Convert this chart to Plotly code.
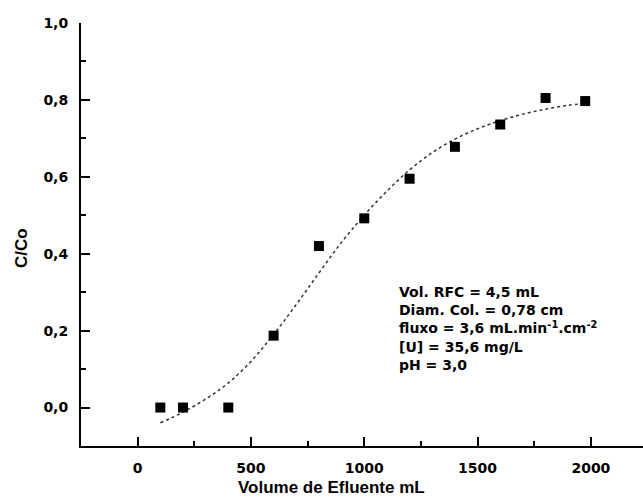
import plotly.graph_objects as go

vol = [100, 200, 400, 600, 800, 1000, 1200, 1400, 1600, 1800, 1975]
c_co = [0.0, 0.0, 0.0, 0.187, 0.42, 0.492, 0.595, 0.678, 0.736, 0.805, 0.797]

fit_x = [100, 200, 300, 400, 500, 600, 700, 800, 900, 1000, 1100, 1200, 1300,
         1400, 1500, 1600, 1700, 1800, 1900, 1975]
fit_y = [-0.04, -0.012, 0.022, 0.064, 0.12, 0.19, 0.268, 0.35, 0.43, 0.50, 0.563,
         0.618, 0.663, 0.698, 0.725, 0.746, 0.763, 0.776, 0.786, 0.791]

x_major = [0, 500, 1000, 1500, 2000]
y_major = [0.0, 0.2, 0.4, 0.6, 0.8, 1.0]

info_lines = [
    "Vol. RFC = 4,5 mL",
    "Diam. Col. = 0,78 cm",
    "fluxo = 3,6 mL.min<sup>-1</sup>.cm<sup>-2</sup>",
    "[U] = 35,6 mg/L",
    "pH = 3,0",
]

FONT = "Liberation Sans, Arial, sans-serif"
TICKFONT = "DejaVu Sans, sans-serif"

W, H = 643, 504
ML, MR, MT, MB = 81, 0, 23, 58
XR = [-250, 2230]
YR = [-0.1, 1.0]
PW, PH = W - ML - MR, H - MT - MB

fig = go.Figure()
fig.add_trace(go.Scatter(x=fit_x, y=fit_y, mode="lines",
                         line=dict(color="#333333", width=1.5, dash="dot", shape="spline"),
                         hoverinfo="skip", showlegend=False))
fig.add_trace(go.Scatter(x=vol, y=c_co, mode="markers",
                         marker=dict(symbol="square", size=10, color="black"),
                         showlegend=False))

fig.add_annotation(x=0.562, y=0.388, xref="paper", yref="paper",
                   xanchor="left", yanchor="top", align="left", showarrow=False,
                   text="<br>".join("<b>%s</b>" % s for s in info_lines),
                   font=dict(family=TICKFONT, size=14, color="black"))

fig.add_annotation(x=(331 - ML) / PW, y=(H - 488 - MB) / PH, xref="paper", yref="paper",
                   xanchor="center", yanchor="middle", showarrow=False,
                   text="<b>Volume de Efluente mL</b>",
                   font=dict(family=FONT, size=17, color="black"))
fig.add_annotation(x=(21 - ML) / PW, y=(H - 248 - MB) / PH, xref="paper", yref="paper",
                   xanchor="center", yanchor="middle", showarrow=False, textangle=-90,
                   text="<b>C/Co</b>",
                   font=dict(family=FONT, size=17, color="black"))

fig.update_layout(
    width=W, height=H,
    margin=dict(l=ML, r=MR, t=MT, b=MB),
    paper_bgcolor="white", plot_bgcolor="white",
    separators=",.",
    font=dict(family=FONT, color="black"),
    xaxis=dict(
        range=XR, tickmode="array", tickvals=x_major, ticktext=[str(v) for v in x_major],
        ticks="inside", ticklen=9, tickwidth=2, tickcolor="black",
        minor=dict(dtick=250, tick0=-250, ticks="inside", ticklen=5, tickwidth=2, tickcolor="black"),
        showline=True, linecolor="black", linewidth=2,
        showgrid=False, zeroline=False,
        tickfont=dict(family=TICKFONT, size=14, color="black", weight="bold"),
        ticklabelstandoff=8,
    ),
    yaxis=dict(
        range=YR, tickmode="array", tickvals=y_major, tickformat=".1f",
        ticks="inside", ticklen=9, tickwidth=2, tickcolor="black",
        minor=dict(dtick=0.1, tick0=0, ticks="inside", ticklen=5, tickwidth=2, tickcolor="black"),
        showline=True, linecolor="black", linewidth=2,
        showgrid=False, zeroline=False,
        tickfont=dict(family=TICKFONT, size=14, color="black", weight="bold"),
        ticklabelstandoff=8,
    ),
)

fig.write_html("out.html")
